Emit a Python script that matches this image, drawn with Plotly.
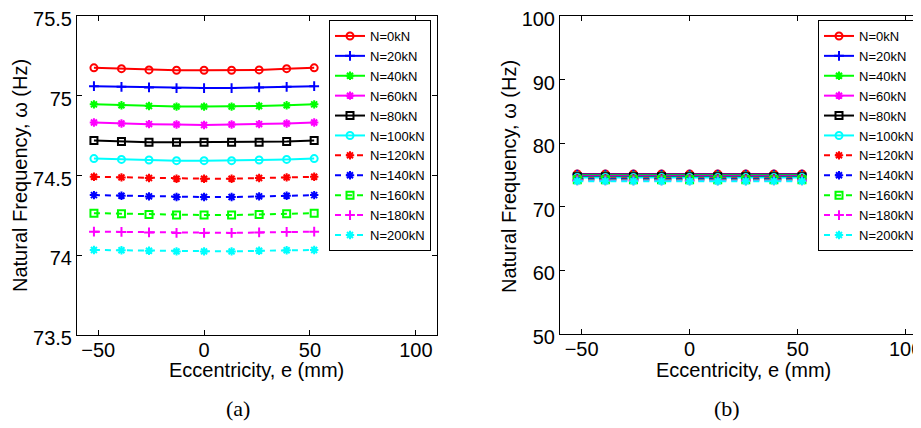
import plotly.graph_objects as go

# Eccentricity positions (mm)
ecc = [-52, -39, -26, -13, 0, 13, 26, 39, 52]

# Natural frequency (Hz) for each axial load
freq_0 = [75.175, 75.170, 75.162, 75.160, 75.160, 75.160, 75.162, 75.170, 75.175]
freq_20 = [75.060, 75.056, 75.052, 75.048, 75.048, 75.048, 75.052, 75.056, 75.060]
freq_40 = [74.946, 74.940, 74.936, 74.932, 74.932, 74.932, 74.936, 74.940, 74.946]
freq_60 = [74.832, 74.826, 74.822, 74.820, 74.817, 74.820, 74.822, 74.826, 74.832]
freq_80 = [74.720, 74.713, 74.709, 74.709, 74.709, 74.709, 74.709, 74.713, 74.720]
freq_100 = [74.606, 74.601, 74.597, 74.593, 74.593, 74.593, 74.597, 74.601, 74.606]
freq_120 = [74.492, 74.488, 74.484, 74.480, 74.480, 74.480, 74.484, 74.488, 74.492]
freq_140 = [74.377, 74.373, 74.369, 74.365, 74.365, 74.365, 74.369, 74.373, 74.377]
freq_160 = [74.264, 74.260, 74.256, 74.252, 74.252, 74.252, 74.256, 74.260, 74.264]
freq_180 = [74.148, 74.146, 74.143, 74.140, 74.140, 74.140, 74.143, 74.146, 74.148]
freq_200 = [74.033, 74.031, 74.028, 74.024, 74.024, 74.024, 74.028, 74.031, 74.033]

loads = ["N=0kN", "N=20kN", "N=40kN", "N=60kN", "N=80kN", "N=100kN",
         "N=120kN", "N=140kN", "N=160kN", "N=180kN", "N=200kN"]
series = [freq_0, freq_20, freq_40, freq_60, freq_80, freq_100,
          freq_120, freq_140, freq_160, freq_180, freq_200]

# MATLAB-like styles: (colour, marker, dash)
STYLES = [
    ("#ff0000", "circle-open", "solid"),
    ("#0000ff", "cross-thin-open", "solid"),
    ("#00ff00", "asterisk-open", "solid"),
    ("#ff00ff", "asterisk-open", "solid"),
    ("#000000", "square-open", "solid"),
    ("#00ffff", "circle-open", "solid"),
    ("#ff0000", "asterisk-open", "6px,5px"),
    ("#0000ff", "asterisk-open", "6px,5px"),
    ("#00ff00", "square-open", "6px,5px"),
    ("#ff00ff", "cross-thin-open", "6px,5px"),
    ("#00ffff", "asterisk-open", "6px,5px"),
]

FONT = "Liberation Sans, Arial, sans-serif"
# page body has an 8px margin, so the figure is 8px smaller than the window
OFF = 8
W, H = 921 - OFF, 428 - OFF


def px(x):
    return (x - OFF) / W


def py(y):
    return 1 - (y - OFF) / H


fig = go.Figure()
for xa, ya, leg in [("x", "y", "legend"), ("x2", "y2", "legend2")]:
    for name, vals, (col, sym, dash) in zip(loads, series, STYLES):
        fig.add_trace(go.Scatter(
            x=ecc, y=vals, name=name, xaxis=xa, yaxis=ya, legend=leg,
            mode="lines+markers",
            line=dict(color=col, width=2, dash=dash),
            marker=dict(symbol=sym, size=7, color=col, line=dict(color=col, width=2)),
        ))

axis_common = dict(
    showline=True, linecolor="black", linewidth=1, ticks="inside", ticklen=5,
    tickcolor="black", showgrid=False, zeroline=False, automargin=False,
    ticklabeloverflow="allow",
    tickfont=dict(family=FONT, size=20, color="black"),
)
xtick_shift = dict(ticklabelstandoff=-3)
ytick_shift = dict(ticklabelshift=3)

legend_common = dict(
    bgcolor="white", bordercolor="black", borderwidth=1,
    font=dict(family=FONT, size=13, color="black"),
    itemwidth=30, tracegroupgap=0, xanchor="left", yanchor="top",
)

fig.update_layout(
    template="none",
    width=W, height=H, margin=dict(l=0, r=0, t=0, b=0, autoexpand=False),
    paper_bgcolor="white", plot_bgcolor="white",
    xaxis=dict(domain=[px(77), px(437)], range=[-60, 110], tickvals=[-50, 0, 50, 100],
               mirror="ticks", anchor="y", **axis_common, **xtick_shift),
    yaxis=dict(domain=[py(335), py(16)], range=[73.5, 75.5],
               tickvals=[73.5, 74, 74.5, 75, 75.5], ticktext=["73.5", "74", "74.5", "75", "75.5"],
               mirror="ticks", anchor="x", **axis_common, **ytick_shift),
    xaxis2=dict(domain=[px(560), 1.0], range=[-60, 107.1], tickvals=[-50, 0, 50, 100],
                mirror="ticks", anchor="y2", **axis_common, **xtick_shift),
    yaxis2=dict(domain=[py(334), py(16)], range=[50, 100],
                tickvals=[50, 60, 70, 80, 90, 100], mirror=False, anchor="x2",
                **axis_common, **ytick_shift),
    legend=dict(x=px(329), y=py(20), **legend_common),
    legend2=dict(x=px(818), y=py(20), **legend_common),
    showlegend=True,
)

ytitle = "Natural Frequency, ω (Hz)"
xtitle = "Eccentricity, e (mm)"
ann = []
for xc_y, xc_x, lab_x, lab in [(20, 257, 238, "(a)"), (509, 743, 727, "(b)")]:
    ann.append(dict(x=px(xc_y), y=py(176), xref="paper", yref="paper", text=ytitle,
                    textangle=-90, showarrow=False, xanchor="center", yanchor="middle",
                    font=dict(family=FONT, size=20, color="black")))
    ann.append(dict(x=px(xc_x), y=py(370), xref="paper", yref="paper", text=xtitle,
                    showarrow=False, xanchor="center", yanchor="middle",
                    font=dict(family=FONT, size=20, color="black")))
    ann.append(dict(x=px(lab_x), y=py(408), xref="paper", yref="paper", text=lab,
                    showarrow=False, xanchor="center", yanchor="middle",
                    font=dict(family="Liberation Serif, serif", size=22, color="black")))
fig.update_layout(annotations=ann)

fig.write_html("out.html")
